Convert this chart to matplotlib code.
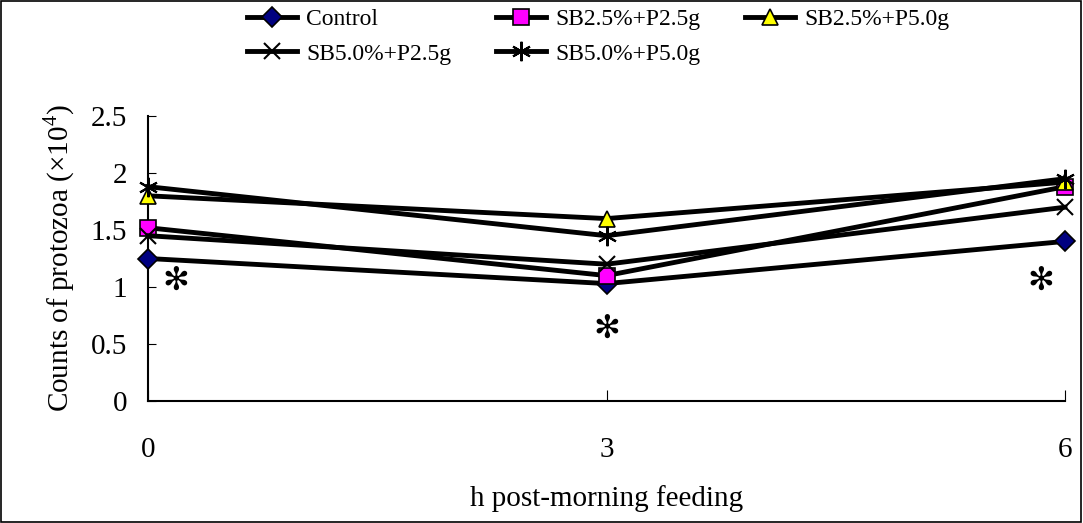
import numpy as np
import matplotlib
matplotlib.use('Agg')
import matplotlib.pyplot as plt
from matplotlib.patches import Rectangle

plt.rcParams['font.family'] = ['Liberation Serif', 'DejaVu Sans']
plt.rcParams['mathtext.fontset'] = 'custom'
plt.rcParams['mathtext.rm'] = 'Liberation Serif'

# Datos
horas = [0, 3, 6]
control = [1.25, 1.03, 1.40]
sb25_p25 = [1.52, 1.10, 1.88]
sb25_p50 = [1.80, 1.60, 1.92]
sb50_p25 = [1.45, 1.20, 1.70]
sb50_p50 = [1.88, 1.45, 1.95]

# Posiciones de los asteriscos de significancia
sig_x = [0.18, 3.0, 5.84]
sig_y = [1.05, 0.63, 1.05]

fig = plt.figure(figsize=(10.83, 5.23), dpi=100)
ax = fig.add_axes([148 / 1083, 1 - 401 / 523, (1065 - 148) / 1083, (401 - 116) / 523])

series = [
    ('Control', control, dict(marker='D', mfc='#000080', ms=10)),
    ('SB2.5%+P2.5g', sb25_p25, dict(marker='s', mfc='#ff00ff', ms=11)),
    ('SB2.5%+P5.0g', sb25_p50, dict(marker='^', mfc='#ffff00', ms=12)),
    ('SB5.0%+P2.5g', sb50_p25, dict(marker='x', ms=12, mew=1.5)),
    ('SB5.0%+P5.0g', sb50_p50, dict(marker=(6, 2, 0), ms=14, mew=1.5)),
]

handles = {}
for nombre, valores, estilo in series:
    estilo.setdefault('mew', 1.2)
    h, = ax.plot(horas, valores, color='black', lw=3.5, mec='black',
                 clip_on=False, zorder=3, label=nombre, **estilo)
    handles[nombre] = h

for x, y in zip(sig_x, sig_y):
    ax.text(x, y, '\u273b', fontsize=23, family=['DejaVu Sans'],
            ha='center', va='center', fontweight='bold')

ax.set_xlim(0, 6)
ax.set_ylim(0, 2.5)
ax.set_xticks(horas)
ax.set_yticks(np.arange(0, 2.51, 0.5))
ax.set_yticklabels(['0', '0.5', '1', '1.5', '2', '2.5'])
ax.spines['top'].set_visible(False)
ax.spines['right'].set_visible(False)
ax.spines['left'].set_linewidth(1.5)
ax.spines['bottom'].set_linewidth(1.5)
ax.tick_params(axis='x', direction='in', length=8, pad=26, labelsize=21)
ax.tick_params(axis='y', direction='in', length=6, pad=15, labelsize=21)

ax.set_xlabel('h post-morning feeding', fontsize=21, labelpad=16)
ax.set_ylabel('Counts of protozoa (\u00d710$^4$)', fontsize=21, labelpad=10)

orden = ['Control', 'SB5.0%+P2.5g', 'SB2.5%+P2.5g', 'SB5.0%+P5.0g', 'SB2.5%+P5.0g']
fig.legend([handles[n] for n in orden], orden, ncol=3, frameon=False,
           loc='upper left', bbox_to_anchor=(226 / 1083, 1.024),
           fontsize=17, handlelength=2.1, columnspacing=1.9,
           labelspacing=0.55, handletextpad=0.4)

fig.add_artist(Rectangle((0.001, 0.002), 0.997, 0.996, transform=fig.transFigure,
                         fill=False, edgecolor='black', lw=1.2))

fig.savefig('out.png', dpi=100)
